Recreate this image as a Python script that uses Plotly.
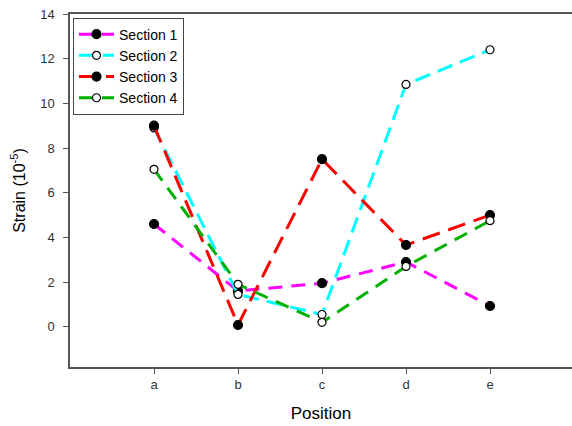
import plotly.graph_objects as go

positions = ["a", "b", "c", "d", "e"]
x_pos = [1, 2, 3, 4, 5]
section1 = [4.6, 1.6, 1.95, 2.9, 0.93]
section2 = [8.9, 1.45, 0.55, 10.85, 12.4]
section3 = [9.0, 0.08, 7.5, 3.66, 5.0]
section4 = [7.05, 1.9, 0.2, 2.7, 4.75]
y_ticks = [0, 2, 4, 6, 8, 10, 12, 14]

series = [
    ("Section 1", section1, "#ff00ff", True, "14px,9px"),
    ("Section 2", section2, "#00ffff", False, "16px,8px"),
    ("Section 3", section3, "#ff0000", True, "18px,9px"),
    ("Section 4", section4, "#00b000", False, "14px,9px"),
]

fig = go.Figure()
for name, vals, color, filled, dash in series:
    fig.add_trace(go.Scatter(
        x=x_pos, y=vals, name=name, mode="lines+markers",
        line=dict(color=color, width=3, dash=dash),
        marker=dict(symbol="circle", size=9 if filled else 8,
                    color="black" if filled else "white",
                    line=dict(color="black", width=1.2)),
    ))

fig.update_layout(
    width=572, height=426,
    margin=dict(l=70, r=0, t=14, b=59),
    paper_bgcolor="white", plot_bgcolor="white",
    font=dict(family="Arial, Liberation Sans, sans-serif", color="#333"),
    showlegend=True,
    legend=dict(x=0.006, y=0.99, xanchor="left", yanchor="top",
                bordercolor="#444", borderwidth=1, bgcolor="white",
                font=dict(size=14, color="black"),
                tracegroupgap=0, itemwidth=35),
    xaxis=dict(range=[0, 5.976], tickmode="array", tickvals=x_pos, ticktext=positions,
               showline=True, linecolor="#555", linewidth=1.5, mirror=True,
               ticks="outside", ticklen=5, tickcolor="#555", showgrid=False, zeroline=False,
               tickfont=dict(size=13, color="#333"),
               title=dict(text="Position", font=dict(size=17, color="black"), standoff=16)),
    yaxis=dict(range=[-1.8, 14], tickmode="array", tickvals=y_ticks,
               showline=True, linecolor="#555", linewidth=1.5,
               ticks="outside", ticklen=5, tickcolor="#555", showgrid=False, zeroline=False,
               tickfont=dict(size=13, color="#333"), ticklabelstandoff=6,
               title=dict(text="Strain (10<sup>-5</sup>)", font=dict(size=16, color="black"), standoff=11)),
)

fig.write_html("out.html", config={"displayModeBar": False},
               post_script="document.body.style.margin='0';document.body.style.overflow='hidden';")
